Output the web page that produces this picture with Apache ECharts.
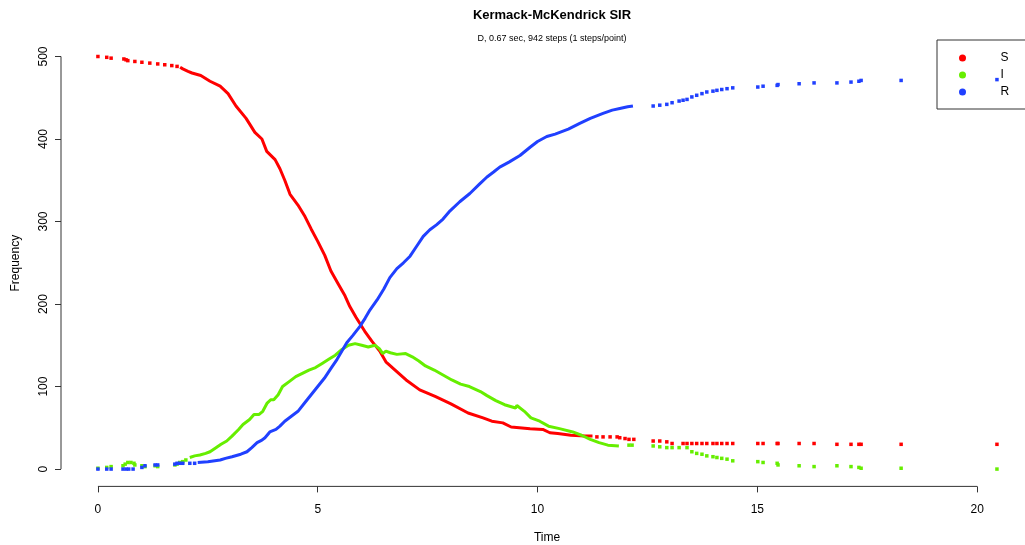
<!DOCTYPE html>
<html>
<head>
<meta charset="utf-8">
<title>Kermack-McKendrick SIR</title>
<script src="https://cdn.jsdelivr.net/npm/echarts@6/dist/echarts.min.js"></script>
<style>
  html, body { margin: 0; padding: 0; background: #ffffff; overflow: hidden; }
  /* the plot region runs a little past the right edge of the window */
  #chart { width: 1045px; height: 545px; }
</style>
</head>
<body>
<div id="chart"></div>
<script>
// Stochastic SIR run: compartment counts at event times (time, count).
// Dense stretches are kept as paths, sparse stretches as separate dots.
const sDots = [[0.00,500],[0.20,499],[0.30,498],[0.59,497],[0.64,496],[0.68,495],[0.84,494],[1.00,493],[1.18,492],[1.36,491],[1.52,490],[1.68,489],[1.80,488]];
const sPath = [[1.87,487],[1.93,485],[2.05,482],[2.14,480],[2.34,477],[2.55,470],[2.78,464],[2.96,455],[3.14,440],[3.37,425],[3.57,408],[3.73,400],[3.84,385],[4.03,375],[4.14,364],[4.25,350],[4.37,333],[4.55,320],[4.71,306],[4.85,291],[5.00,276],[5.16,259],[5.30,240],[5.46,225],[5.62,210],[5.73,197],[5.87,184],[6.07,167],[6.23,155],[6.41,143],[6.55,130],[6.76,120],[7.01,108],[7.32,96],[7.67,88],[8.03,79],[8.42,68],[8.76,62],[8.96,58],[9.21,56],[9.40,51],[9.83,49],[10.12,48],[10.28,44],[10.46,43],[10.76,41],[11.08,40],[11.25,40]];
const sTail = [[11.35,39],[11.49,39],[11.65,39],[11.81,39],[11.87,38],[11.99,37],[12.08,36],[12.19,36],[12.63,34],[12.78,34],[12.94,33],[13.06,31],[13.31,31],[13.40,31],[13.51,31],[13.62,31],[13.74,31],[13.85,31],[13.99,31],[14.08,31],[14.19,31],[14.31,31],[14.44,31],[15.01,31],[15.13,31],[15.45,31],[15.47,31],[15.95,31],[16.29,31],[16.81,30],[17.13,30],[17.31,30],[17.36,30],[18.27,30],[20.45,30]];

const iDots = [[0.00,1],[0.20,2],[0.30,3],[0.57,4],[0.62,6],[0.68,8],[0.75,8],[0.82,7],[0.84,5],[1.00,4],[1.07,3],[1.30,4],[1.36,3],[1.75,5],[1.80,6],[1.86,8],[1.93,9],[2.00,11]];
const iPath = [[2.09,14],[2.20,16],[2.32,17],[2.45,19],[2.55,21],[2.66,25],[2.80,30],[2.93,34],[3.05,40],[3.20,48],[3.30,54],[3.45,60],[3.55,66],[3.66,66],[3.75,70],[3.85,80],[3.93,84],[4.00,84],[4.10,90],[4.20,100],[4.35,106],[4.50,112],[4.65,116],[4.80,120],[4.95,123],[5.10,128],[5.25,133],[5.40,138],[5.55,145],[5.70,150],[5.85,152],[6.00,150],[6.15,148],[6.30,150],[6.40,146],[6.48,140],[6.55,143],[6.65,141],[6.80,139],[7.00,140],[7.15,136],[7.30,131],[7.45,125],[7.65,120],[7.85,114],[8.05,108],[8.25,103],[8.45,100],[8.70,94],[8.85,89],[9.05,83],[9.25,78],[9.50,74],[9.53,77],[9.70,70],[9.85,62],[10.05,58],[10.25,52],[10.50,49],[10.80,45],[11.00,41],[11.20,36],[11.40,32],[11.60,29],[11.85,28]];
const iTail = [[12.08,29],[12.15,29],[12.63,28],[12.78,27],[12.94,26],[13.06,26],[13.22,26],[13.40,26],[13.51,21],[13.62,19],[13.74,18],[13.85,16],[13.99,15],[14.08,14],[14.19,13],[14.31,12],[14.44,10],[15.01,9],[15.13,8],[15.45,7],[15.47,5],[15.95,4],[16.29,3],[16.81,4],[17.13,3],[17.31,2],[17.36,1],[18.27,1],[20.45,0]];

const rDots = [[0.00,0],[0.20,0],[0.30,0],[0.57,0],[0.64,0],[0.70,0],[0.80,0],[1.00,2],[1.07,4],[1.30,5],[1.36,5],[1.75,6],[1.80,7],[1.86,7],[1.93,7],[2.09,7],[2.20,7]];
const rPath = [[2.27,8],[2.50,9],[2.78,11],[2.90,13],[3.05,15],[3.25,18],[3.39,21],[3.50,26],[3.62,32],[3.73,35],[3.80,38],[3.91,45],[4.05,48],[4.14,52],[4.25,58],[4.40,64],[4.55,70],[4.70,80],[4.85,90],[5.00,100],[5.15,110],[5.30,122],[5.44,133],[5.55,143],[5.66,153],[5.80,162],[5.96,173],[6.08,183],[6.19,193],[6.35,205],[6.50,218],[6.64,232],[6.80,243],[6.95,250],[7.10,258],[7.25,270],[7.40,282],[7.55,290],[7.70,296],[7.85,303],[8.01,313],[8.23,324],[8.46,334],[8.69,346],[8.85,354],[9.00,360],[9.14,366],[9.35,372],[9.60,380],[9.83,390],[10.00,397],[10.21,403],[10.40,406],[10.70,412],[10.96,419],[11.20,425],[11.49,431],[11.70,435],[11.87,437],[12.05,439],[12.17,440]];
const rTail = [[12.63,440],[12.78,441],[12.94,442],[13.06,444],[13.22,446],[13.31,447],[13.40,448],[13.51,451],[13.62,453],[13.74,455],[13.85,457],[13.99,458],[14.08,459],[14.19,460],[14.31,461],[14.44,462],[15.01,463],[15.13,464],[15.45,465],[15.47,466],[15.95,467],[16.29,468],[16.81,468],[17.13,469],[17.31,470],[17.36,471],[18.27,471],[20.45,472]];

const xTicks = [0, 5, 10, 15, 20];
const yTicks = [0, 100, 200, 300, 400, 500];
const xRange = [-0.84, 21.27];
const yRange = [-21, 520];

const colors = { S: '#ff0000', I: '#66ee00', R: '#2040ff' };
const font = 'Liberation Sans, Arial, sans-serif';

function pathSeries(name, data) {
  return {
    name: name, type: 'line', data: data, showSymbol: false,
    lineStyle: { color: colors[name], width: 3 }, itemStyle: { color: colors[name] },
    silent: true, z: 3
  };
}
function dotSeries(name, data) {
  return {
    name: name, type: 'scatter', data: data, symbol: 'rect', symbolSize: 3.5,
    itemStyle: { color: colors[name], opacity: 1 }, silent: true, z: 3
  };
}
// Axis lines that only span the labelled tick range, drawn on the plot edges
function axisSegment(data) {
  return {
    type: 'line', data: data, showSymbol: false, silent: true, clip: false,
    lineStyle: { color: '#333333', width: 1 }, z: 2
  };
}

const chart = echarts.init(document.getElementById('chart'), null, { renderer: 'canvas' });
chart.setOption({
  animation: false,
  backgroundColor: '#ffffff',
  title: [
    { text: 'Kermack-McKendrick SIR', left: 547, top: 4, textAlign: 'center',
      textStyle: { fontFamily: font, fontSize: 13, fontWeight: 'bold', color: '#000' } },
    { text: 'D, 0.67 sec, 942 steps (1 steps/point)', left: 547, top: 29, textAlign: 'center',
      textStyle: { fontFamily: font, fontSize: 9, fontWeight: 'normal', color: '#000' } }
  ],
  legend: {
    data: ['S', 'I', 'R'], orient: 'vertical', left: 937, top: 40,
    icon: 'circle', itemWidth: 14, itemHeight: 7, itemGap: 3,
    padding: [11, 30, 10, 22], borderColor: '#333333', borderWidth: 1,
    selectedMode: false,
    itemStyle: { opacity: 1 },
    textStyle: { fontFamily: font, fontSize: 12, color: '#000', lineHeight: 14, padding: [0, 0, 0, 26] }
  },
  grid: { left: 61, top: 40, width: 972, height: 446.4, containLabel: false, outerBoundsMode: 'none' },
  xAxis: {
    type: 'value', min: xRange[0], max: xRange[1],
    name: 'Time', nameLocation: 'middle', nameGap: 45,
    nameTextStyle: { fontFamily: font, fontSize: 12, color: '#000' },
    axisLine: { show: false, onZero: false },
    axisTick: { show: true, length: 6, customValues: xTicks, lineStyle: { color: '#333333' } },
    axisLabel: { customValues: xTicks, margin: 17, fontFamily: font, fontSize: 12, color: '#000' },
    splitLine: { show: false }
  },
  yAxis: {
    type: 'value', min: yRange[0], max: yRange[1],
    name: 'Frequency', nameLocation: 'middle', nameGap: 39, nameRotate: 90,
    nameTextStyle: { fontFamily: font, fontSize: 12, color: '#000' },
    axisLine: { show: false, onZero: false },
    axisTick: { show: true, length: 6, customValues: yTicks, lineStyle: { color: '#333333' } },
    axisLabel: { customValues: yTicks, rotate: 90, margin: 11, fontFamily: font, fontSize: 12, color: '#000' },
    splitLine: { show: false }
  },
  series: [
    axisSegment([[xTicks[0], yRange[0]], [xTicks[xTicks.length - 1], yRange[0]]]),
    axisSegment([[xRange[0], yTicks[0]], [xRange[0], yTicks[yTicks.length - 1]]]),
    dotSeries('S', sDots), pathSeries('S', sPath), dotSeries('S', sTail),
    dotSeries('I', iDots), pathSeries('I', iPath), dotSeries('I', iTail),
    dotSeries('R', rDots), pathSeries('R', rPath), dotSeries('R', rTail)
  ]
});
</script>
</body>
</html>
